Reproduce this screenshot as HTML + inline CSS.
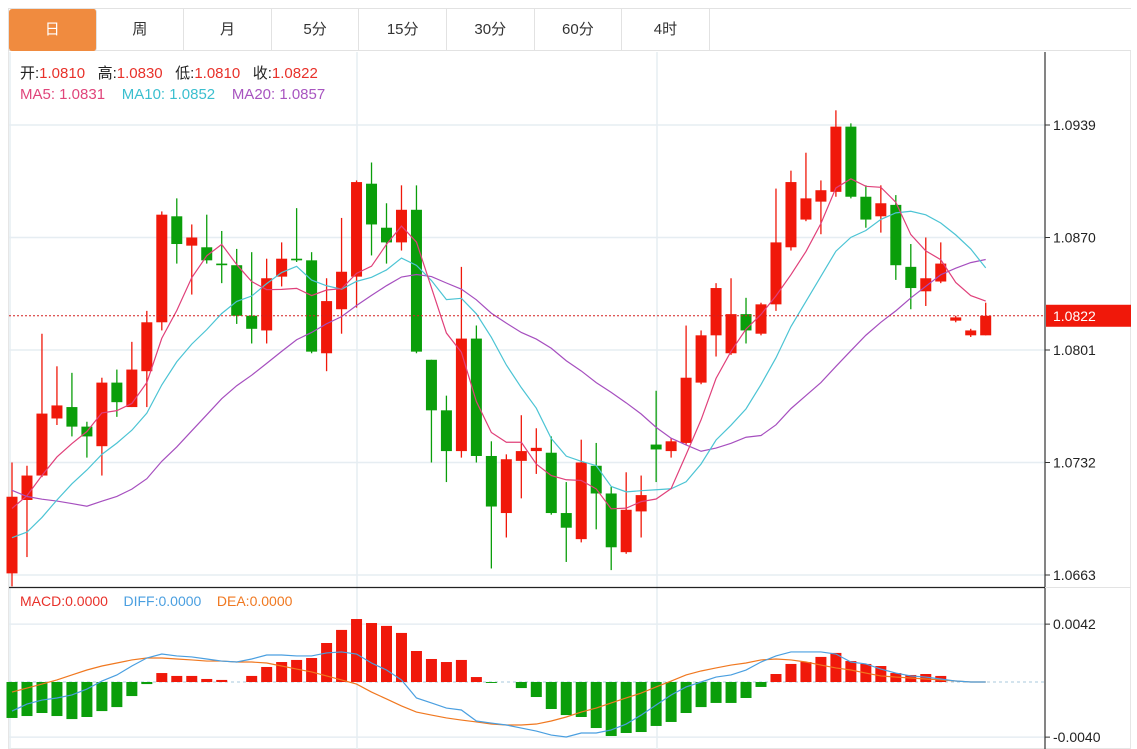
<!DOCTYPE html>
<html><head><meta charset="utf-8"><style>
body{margin:0;width:1137px;height:749px;overflow:hidden;background:#fff;font-family:"Liberation Sans","Noto Sans CJK SC",sans-serif;position:relative}
.tabs{position:absolute;left:8px;top:8px;width:1123px;height:43px;border:1px solid #e2e2e2;border-right:none;box-sizing:border-box;display:flex}
.tab{width:87.6px;height:42px;line-height:42px;text-align:center;font-size:15px;color:#333;border-right:1px solid #e2e2e2;box-sizing:border-box}
.tab.on{background:#f08b3f;color:#fff;border-radius:3px}
#frame{position:absolute;left:8px;top:51px;width:1123px;height:698px;border:1px solid #e6e6e6;border-top:none;box-sizing:border-box}
svg{position:absolute;left:0;top:0}
.lg{position:absolute;left:20px;font-size:15px;white-space:nowrap}
</style></head><body>
<div class="tabs">
<div class="tab on">日</div>
<div class="tab">周</div>
<div class="tab">月</div>
<div class="tab">5分</div>
<div class="tab">15分</div>
<div class="tab">30分</div>
<div class="tab">60分</div>
<div class="tab">4时</div>
</div>
<div id="frame"></div>
<svg id="chart" width="1137" height="749"></svg>
<div class="lg" style="top:62px"><span style="color:#222">开:</span><span style="color:#e8312a">1.0810</span>&nbsp;&nbsp; <span style="color:#222">高:</span><span style="color:#e8312a">1.0830</span>&nbsp;&nbsp; <span style="color:#222">低:</span><span style="color:#e8312a">1.0810</span>&nbsp;&nbsp; <span style="color:#222">收:</span><span style="color:#e8312a">1.0822</span></div>
<div class="lg" style="top:86px"><span style="color:#e0457b">MA5: 1.0831</span>&nbsp;&nbsp;&nbsp; <span style="color:#3bbfcf">MA10: 1.0852</span>&nbsp;&nbsp;&nbsp; <span style="color:#a855c0">MA20: 1.0857</span></div>
<div class="lg" style="top:593px;font-size:14px"><span style="color:#e8312a">MACD:0.0000</span>&nbsp;&nbsp;&nbsp; <span style="color:#4a9fe0">DIFF:0.0000</span>&nbsp;&nbsp;&nbsp; <span style="color:#f07820">DEA:0.0000</span></div>
<script>
const opens=[1.0664,1.0709,1.0724,1.0759,1.0766,1.0754,1.0742,1.0781,1.0766,1.0788,1.0818,1.0883,1.0865,1.0864,1.0854,1.0853,1.0822,1.0813,1.0846,1.0857,1.0856,1.0799,1.0826,1.0846,1.0903,1.0876,1.0867,1.0887,1.0795,1.0764,1.0739,1.0808,1.0736,1.0701,1.0733,1.0739,1.0738,1.0701,1.0685,1.0730,1.0713,1.0677,1.0702,1.0743,1.0739,1.0744,1.0781,1.0810,1.0799,1.0823,1.0811,1.0829,1.0864,1.0881,1.0892,1.0898,1.0938,1.0895,1.0883,1.0890,1.0852,1.0837,1.0843,1.0819,1.0810,1.0810];
const closes=[1.0711,1.0724,1.0762,1.0767,1.0754,1.0748,1.0781,1.0769,1.0789,1.0818,1.0884,1.0866,1.0870,1.0856,1.0853,1.0822,1.0814,1.0845,1.0857,1.0856,1.0800,1.0831,1.0849,1.0904,1.0878,1.0867,1.0887,1.0800,1.0764,1.0739,1.0808,1.0736,1.0705,1.0734,1.0739,1.0741,1.0701,1.0692,1.0732,1.0713,1.0680,1.0703,1.0712,1.0740,1.0745,1.0784,1.0810,1.0839,1.0823,1.0813,1.0829,1.0867,1.0904,1.0894,1.0899,1.0938,1.0895,1.0881,1.0891,1.0853,1.0839,1.0845,1.0854,1.0821,1.0813,1.0822];
const highs=[1.0732,1.0730,1.0811,1.0791,1.0787,1.0757,1.0784,1.0789,1.0806,1.0825,1.0886,1.0894,1.0878,1.0884,1.0874,1.0863,1.0861,1.0857,1.0867,1.0888,1.0861,1.0845,1.0882,1.0905,1.0916,1.0891,1.0902,1.0902,1.0795,1.0773,1.0852,1.0816,1.0745,1.0737,1.0761,1.0753,1.0748,1.0720,1.0746,1.0744,1.0717,1.0726,1.0724,1.0776,1.0747,1.0816,1.0813,1.0842,1.0845,1.0833,1.0830,1.0900,1.0911,1.0922,1.0905,1.0948,1.0940,1.0902,1.0902,1.0896,1.0866,1.0870,1.0867,1.0822,1.0814,1.0830];
const lows=[1.0656,1.0674,1.0723,1.0755,1.0748,1.0735,1.0724,1.0760,1.0766,1.0766,1.0813,1.0854,1.0835,1.0854,1.0842,1.0817,1.0805,1.0805,1.0840,1.0855,1.0799,1.0788,1.0811,1.0827,1.0859,1.0854,1.0862,1.0799,1.0732,1.0720,1.0735,1.0732,1.0667,1.0686,1.0710,1.0725,1.0700,1.0671,1.0683,1.0691,1.0666,1.0676,1.0686,1.0720,1.0735,1.0743,1.0780,1.0797,1.0798,1.0805,1.0810,1.0825,1.0862,1.0880,1.0872,1.0895,1.0894,1.0876,1.0873,1.0844,1.0826,1.0828,1.0842,1.0818,1.0809,1.0810];
const priorCloses=[1.0800,1.0795,1.0790,1.0785,1.0780,1.0720,1.0710,1.0700,1.0690,1.0670,1.0690,1.0672,1.0660,1.0655,1.0663,1.0685,1.0700,1.0710,1.0713];
const macdHist=[-0.00261,-0.00247,-0.00225,-0.00247,-0.00269,-0.00254,-0.00211,-0.00182,-0.00102,-0.00015,0.00065,0.00044,0.00044,0.00022,0.00015,0,0.00044,0.00109,0.00145,0.00160,0.00174,0.00283,0.00378,0.00457,0.00428,0.00407,0.00356,0.00225,0.00167,0.00145,0.00160,0.00036,-0.00007,0,-0.00044,-0.00109,-0.00196,-0.00240,-0.00254,-0.00334,-0.00392,-0.00370,-0.00363,-0.00319,-0.00290,-0.00225,-0.00182,-0.00152,-0.00152,-0.00116,-0.00036,0.00058,0.00131,0.00145,0.00182,0.00211,0.00152,0.00131,0.00116,0.00065,0.00051,0.00058,0.00044,0,0,0];
const diffVals=[-0.00211,-0.00160,-0.00131,-0.00116,-0.00094,-0.00051,0.00007,0.00051,0.00116,0.00174,0.00203,0.00189,0.00182,0.00167,0.00152,0.00145,0.00167,0.00196,0.00196,0.00189,0.00189,0.00211,0.00218,0.00203,0.00138,0.00087,0.00015,-0.00116,-0.00152,-0.00189,-0.00203,-0.00283,-0.00298,-0.00312,-0.00334,-0.00356,-0.00385,-0.00399,-0.00370,-0.00370,-0.00348,-0.00305,-0.00240,-0.00167,-0.00094,-0.00036,0,0.00036,0.00051,0.00087,0.00145,0.00189,0.00218,0.00218,0.00218,0.00203,0.00145,0.00131,0.00094,0.00065,0.00044,0.00036,0.00022,0.00007,0,0];
const deaVals=[-0.00073,-0.00044,-0.00015,0.00015,0.00051,0.00087,0.00116,0.00138,0.00160,0.00174,0.00174,0.00167,0.00160,0.00152,0.00152,0.00145,0.00145,0.00138,0.00116,0.00094,0.00073,0.00044,0.00015,-0.00015,-0.00073,-0.00123,-0.00174,-0.00218,-0.00240,-0.00261,-0.00276,-0.00290,-0.00305,-0.00312,-0.00312,-0.00305,-0.00283,-0.00254,-0.00218,-0.00189,-0.00152,-0.00116,-0.00080,-0.00036,0.00007,0.00051,0.00080,0.00102,0.00123,0.00138,0.00160,0.00167,0.00160,0.00145,0.00123,0.00102,0.00087,0.00065,0.00044,0.00036,0.00029,0.00022,0.00015,0.00007,0,0];
const priceTicks=[1.0939,1.0870,1.0801,1.0732,1.0663];
const macdTicks=[0.0042,-0.0040];
const lastPrice=1.0822;

const NS='http://www.w3.org/2000/svg';
const svg=document.getElementById('chart');
const xOf=i=>12+i*14.98;
const yP=p=>125+(1.0939-p)/0.0069*112.5;
const yM=v=>682-v/0.0082*113;
function mk(tag,attrs,parent){const e=document.createElementNS(NS,tag);for(const k in attrs)e.setAttribute(k,attrs[k]);(parent||svg).appendChild(e);return e;}
const RED='#f0180a',GREEN='#0a9e0a';

priceTicks.forEach(t=>{const l=mk('line',{x1:9,x2:1045,y1:yP(t),y2:yP(t),stroke:'#e6edf2','stroke-width':1.5});

});
macdTicks.forEach(t=>{const l=mk('line',{x1:9,x2:1045,y1:yM(t),y2:yM(t),stroke:'#e6edf2','stroke-width':1.5});

});
[10,357,657].forEach(x=>{const l=mk('line',{x1:x,x2:x,y1:52,y2:749,stroke:'#e6edf2','stroke-width':1.5});

});

const all=priorCloses.concat(closes);
function ma(n){const out=[];for(let i=0;i<closes.length;i++){const j=i+priorCloses.length;let s=0,c=0;for(let k=Math.max(0,j-n+1);k<=j;k++){s+=all[k];c++;}out.push(s/c);}return out;}
function poly(vals,yf,color,name){const p=mk('polyline',{points:vals.map((v,i)=>xOf(i)+','+yf(v)).join(' '),fill:'none',stroke:color,'stroke-width':1.2});

return p;}

closes.forEach((c,i)=>{const o=opens[i],up=c>=o,col=up?RED:GREEN,x=xOf(i);
const g=mk('g',{});


mk('line',{x1:x,x2:x,y1:yP(highs[i]),y2:yP(lows[i]),stroke:col,'stroke-width':1.3},g);
const top=yP(Math.max(o,c)),bot=yP(Math.min(o,c));
mk('rect',{x:x-5.5,y:top,width:11,height:Math.max(1.5,bot-top),fill:col},g);});

poly(ma(20),yP,'#a64fbf','ma20-line');
poly(ma(10),yP,'#4cc4d4','ma10-line');
poly(ma(5),yP,'#e0407a','ma5-line');

const ly=yP(lastPrice);
const pl=mk('line',{x1:9,x2:1045,y1:ly,y2:ly,stroke:'#d42020','stroke-width':1,'stroke-dasharray':'2,2'});


const pr=mk('rect',{x:1046,y:ly-11,width:85,height:22,fill:'#f0180a'});


const pt=mk('text',{x:1053,y:ly+5,fill:'#fff','font-size':14,'font-family':'Liberation Sans, sans-serif'});
pt.textContent=lastPrice.toFixed(4);



const z=mk('line',{x1:9,x2:1045,y1:yM(0),y2:yM(0),stroke:'#a9c8dc','stroke-width':1,'stroke-dasharray':'3,3'});


macdHist.forEach((v,i)=>{if(v===0)return;const y0=yM(0),y1=yM(v);
const r=mk('rect',{x:xOf(i)-5.5,y:Math.min(y0,y1),width:11,height:Math.abs(y1-y0),fill:v>0?RED:GREEN});

});
poly(deaVals,yM,'#f07820','dea-line');
poly(diffVals,yM,'#4a9fe0','diff-line');

const ax=mk('line',{x1:1045,x2:1045,y1:52,y2:749,stroke:'#333','stroke-width':1.2});


const sep=mk('line',{x1:9,x2:1045,y1:587.5,y2:587.5,stroke:'#222','stroke-width':1.2});


mk('line',{x1:1045,x2:1131,y1:587.5,y2:587.5,stroke:'#e3e3e3','stroke-width':1});
function tick(y,label,name){mk('line',{x1:1045,x2:1050,y1:y,y2:y,stroke:'#333'});
const t=mk('text',{x:1053,y:y+5,fill:'#222','font-size':14,'font-family':'Liberation Sans, sans-serif'});
t.textContent=label;

}
priceTicks.forEach(t=>{if(Math.abs(t-lastPrice)>0.0005)tick(yP(t),t.toFixed(4),'price-tick-label');});
macdTicks.forEach(t=>tick(yM(t),t.toFixed(4),'macd-tick-label'));
</script>
</body></html>
